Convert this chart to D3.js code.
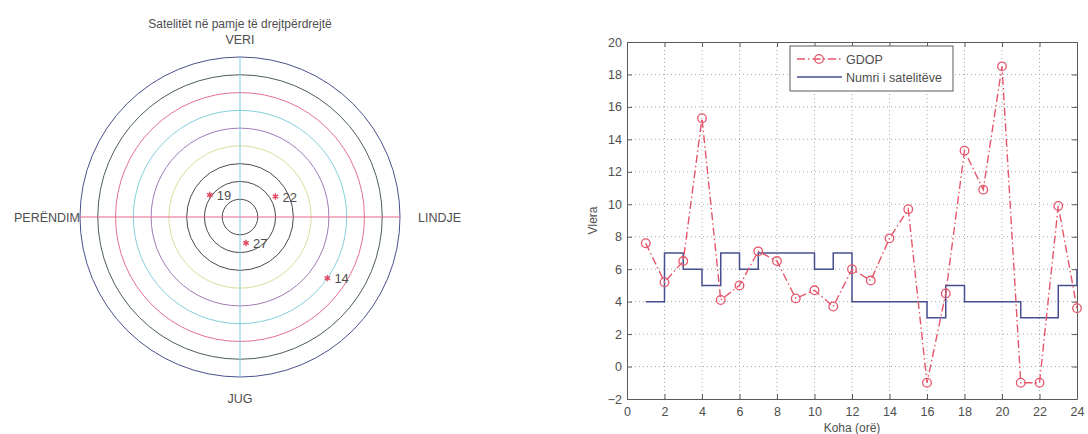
<!DOCTYPE html>
<html>
<head>
<meta charset="utf-8">
<script src="https://cdn.jsdelivr.net/npm/d3@7"></script>
<style>
  html, body { margin: 0; padding: 0; background: #ffffff; }
  svg { display: block; }
  text { font-family: "Liberation Sans", Arial, sans-serif; fill: #4e4e4e; }
</style>
</head>
<body>
<svg id="chart" width="1088" height="434"></svg>
<script>
// ---- Sky plot data ----
const satIds = ["19", "22", "27", "14"];
const satAzimuth = [306, 60, 167, 125];     // degrees from north, clockwise
const satElevation = [69, 67, 75, 30];      // degrees above horizon
const elevationRings = [80, 70, 60, 50, 40, 30, 20, 10, 0];
const ringColors = ["#4a4a4a", "#4a4a4a", "#4a4a4a", "#dcdc9a", "#a07cb4", "#86cedc", "#e37290", "#4d5e5a", "#4b528e"];
const directionLabels = ["VERI", "LINDJE", "JUG", "PERËNDIM"];
const skyTitle = "Satelitët në pamje të drejtpërdrejtë";

// ---- Time series data ----
const hours = [1, 2, 3, 4, 5, 6, 7, 8, 9, 10, 11, 12, 13, 14, 15, 16, 17, 18, 19, 20, 21, 22, 23, 24];
const gdop = [7.6, 5.2, 6.5, 15.3, 4.1, 5.0, 7.1, 6.5, 4.2, 4.7, 3.7, 6.0, 5.3, 7.9, 9.7, -1.0, 4.5, 13.3, 10.9, 18.5, -1.0, -1.0, 9.9, 3.6];
const satCount = [4, 7, 6, 5, 7, 6, 7, 7, 7, 6, 7, 4, 4, 4, 4, 3, 5, 4, 4, 4, 3, 3, 5, 6];
const xTicks = [0, 2, 4, 6, 8, 10, 12, 14, 16, 18, 20, 22, 24];
const yTicks = [-2, 0, 2, 4, 6, 8, 10, 12, 14, 16, 18, 20];
const legendLabels = ["GDOP", "Numri i satelitëve"];
const xLabel = "Koha (orë)";
const yLabel = "Vlera";

const svg = d3.select("#chart");

// ================= Sky plot =================
const cx = 240, cy = 217, R = 160;
const rScale = d3.scaleLinear().domain([90, 0]).range([0, R]);
const sky = svg.append("g").attr("transform", `translate(${cx},${cy})`);

sky.selectAll("circle.ring")
  .data(elevationRings)
  .join("circle")
  .attr("class", "ring")
  .attr("r", d => rScale(d))
  .attr("fill", "none")
  .attr("stroke", (d, i) => ringColors[i])
  .attr("stroke-width", 1);

// cross hairs
sky.append("line")
  .attr("x1", -R).attr("x2", R).attr("y1", 0).attr("y2", 0)
  .attr("stroke", "#e6668a").attr("stroke-width", 1);
sky.append("line")
  .attr("x1", 0).attr("x2", 0).attr("y1", -R).attr("y2", R)
  .attr("stroke", "#80cadc").attr("stroke-width", 1);

// satellites
const satPos = satIds.map((id, i) => {
  const a = satAzimuth[i] * Math.PI / 180;
  const r = rScale(satElevation[i]);
  return { id, x: r * Math.sin(a), y: -r * Math.cos(a) };
});
const star = d3.symbol().type(d3.symbolAsterisk).size(28);
sky.selectAll("path.sat")
  .data(satPos)
  .join("path")
  .attr("class", "sat")
  .attr("transform", d => `translate(${d.x},${d.y})`)
  .attr("d", star)
  .attr("fill", "none")
  .attr("stroke", "#e24a64")
  .attr("stroke-width", 1.4);
sky.selectAll("text.satlabel")
  .data(satPos)
  .join("text")
  .attr("class", "satlabel")
  .attr("x", d => d.x + 7)
  .attr("y", d => d.y + 5)
  .attr("font-size", 13)
  .text(d => d.id);

// titles and compass labels
svg.append("text").attr("x", cx).attr("y", 28).attr("text-anchor", "middle")
  .attr("font-size", 12).attr("fill", "#5a5a5a").text(skyTitle);
svg.append("text").attr("x", cx).attr("y", 44).attr("text-anchor", "middle")
  .attr("font-size", 12.5).text(directionLabels[0]);
svg.append("text").attr("x", 418).attr("y", 221.5).attr("text-anchor", "start")
  .attr("font-size", 12.5).text(directionLabels[1]);
svg.append("text").attr("x", cx).attr("y", 403).attr("text-anchor", "middle")
  .attr("font-size", 12.5).text(directionLabels[2]);
svg.append("text").attr("x", 80).attr("y", 221.5).attr("text-anchor", "end")
  .attr("font-size", 12.5).text(directionLabels[3]);

// ================= Time series =================
const x0 = 627, x1 = 1077, y0 = 399, y1 = 42;
const x = d3.scaleLinear().domain([0, 24]).range([x0, x1]);
const y = d3.scaleLinear().domain([-2, 20]).range([y0, y1]);
const plot = svg.append("g");

// dotted grid
plot.append("g").selectAll("line")
  .data(xTicks.slice(1, -1))
  .join("line")
  .attr("x1", d => x(d)).attr("x2", d => x(d))
  .attr("y1", y0).attr("y2", y1)
  .attr("stroke", "#a8a8a8").attr("stroke-dasharray", "1,3");
plot.append("g").selectAll("line")
  .data(yTicks.slice(1, -1))
  .join("line")
  .attr("x1", x0).attr("x2", x1)
  .attr("y1", d => y(d)).attr("y2", d => y(d))
  .attr("stroke", "#a8a8a8").attr("stroke-dasharray", "1,3");

// axes with inward ticks on all four sides
function styleAxis(g) {
  g.selectAll("path.domain").attr("stroke", "#5a5a5a");
  g.selectAll(".tick line").attr("stroke", "#5a5a5a");
  g.selectAll("text").attr("fill", "#5a5a5a").attr("font-size", 12.5)
    .attr("font-family", "'Liberation Sans', Arial, sans-serif");
}
plot.append("g").attr("transform", `translate(0,${y0})`)
  .call(d3.axisBottom(x).tickValues(xTicks).tickSize(-5).tickSizeOuter(0).tickPadding(8))
  .call(styleAxis);
plot.append("g").attr("transform", `translate(0,${y1})`)
  .call(d3.axisTop(x).tickValues(xTicks).tickSize(-5).tickSizeOuter(0).tickFormat(""))
  .call(styleAxis);
plot.append("g").attr("transform", `translate(${x0},0)`)
  .call(d3.axisLeft(y).tickValues(yTicks).tickSize(-5).tickSizeOuter(0).tickPadding(5))
  .call(styleAxis);
plot.append("g").attr("transform", `translate(${x1},0)`)
  .call(d3.axisRight(y).tickValues(yTicks).tickSize(-5).tickSizeOuter(0).tickFormat(""))
  .call(styleAxis);

// satellite count stairs
const stairs = d3.line().x(d => x(d[0])).y(d => y(d[1])).curve(d3.curveStepAfter);
plot.append("path")
  .datum(hours.map((h, i) => [h, satCount[i]]))
  .attr("d", stairs)
  .attr("fill", "none")
  .attr("stroke", "#45508f")
  .attr("stroke-width", 1.5);

// GDOP dash-dot line with circles
const gdopLine = d3.line().x(d => x(d[0])).y(d => y(d[1]));
const gdopPts = hours.map((h, i) => [h, gdop[i]]);
plot.append("path")
  .datum(gdopPts)
  .attr("d", gdopLine)
  .attr("fill", "none")
  .attr("stroke", "#e5566a")
  .attr("stroke-width", 1.4)
  .attr("stroke-dasharray", "8,3,1.5,3");
plot.selectAll("circle.gdop")
  .data(gdopPts)
  .join("circle")
  .attr("class", "gdop")
  .attr("cx", d => x(d[0])).attr("cy", d => y(d[1]))
  .attr("r", 4.3)
  .attr("fill", "none")
  .attr("stroke", "#e5566a")
  .attr("stroke-width", 1.3);

// axis titles
svg.append("text").attr("x", (x0 + x1) / 2).attr("y", 432).attr("text-anchor", "middle")
  .attr("font-size", 12).attr("fill", "#5a5a5a").text(xLabel);
svg.append("text").attr("transform", `translate(597,${(y0 + y1) / 2}) rotate(-90)`)
  .attr("text-anchor", "middle").attr("font-size", 12).attr("fill", "#5a5a5a").text(yLabel);

// legend
const lg = svg.append("g").attr("transform", "translate(790,46)");
lg.append("rect").attr("width", 163).attr("height", 45)
  .attr("fill", "#ffffff").attr("stroke", "#5a5a5a").attr("stroke-width", 1);
lg.append("line").attr("x1", 7).attr("x2", 52).attr("y1", 13).attr("y2", 13)
  .attr("stroke", "#e5566a").attr("stroke-width", 1.4).attr("stroke-dasharray", "8,3,1.5,3");
lg.append("circle").attr("cx", 29).attr("cy", 13).attr("r", 4.3)
  .attr("fill", "none").attr("stroke", "#e5566a").attr("stroke-width", 1.3);
lg.append("line").attr("x1", 7).attr("x2", 52).attr("y1", 31).attr("y2", 31)
  .attr("stroke", "#45508f").attr("stroke-width", 1.5);
lg.append("text").attr("x", 56).attr("y", 17.5).attr("font-size", 12.5).text(legendLabels[0]);
lg.append("text").attr("x", 56).attr("y", 35.5).attr("font-size", 12.5).text(legendLabels[1]);
</script>
</body>
</html>
